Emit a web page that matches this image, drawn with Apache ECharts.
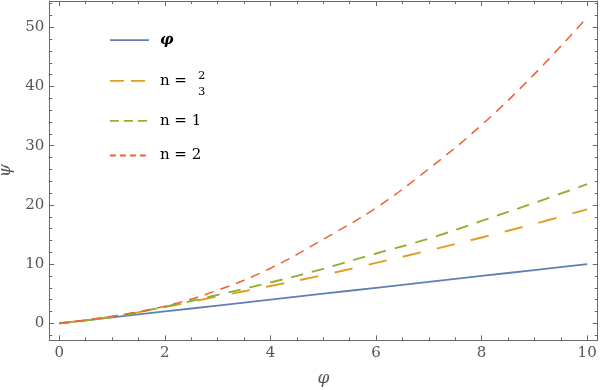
<!DOCTYPE html>
<html>
<head>
<meta charset="utf-8">
<script src="https://cdn.jsdelivr.net/npm/echarts@6/dist/echarts.min.js"></script>
<style>html,body{margin:0;padding:0;background:#fff}#c{width:600px;height:390px}</style>
</head>
<body>
<div id="c"></div>
<script>
var phiValues = [0, 1, 2, 3, 4, 5, 6, 7, 8, 9, 10];
var psiPhi = [0, 1, 2, 3, 4, 5, 6, 7, 8, 9, 10];
var psiTwoThirds = [0, 1.1, 2.75, 4.55, 6.3, 8.15, 10.2, 12.3, 14.5, 16.8, 19.25];
var psiOne = [0, 1.1, 2.8, 4.8, 6.9, 9.2, 11.8, 14.3, 17.3, 20.35, 23.5];
var psiTwo = [0, 1.2, 2.9, 5.6, 9.3, 14.2, 19.5, 26.1, 33.5, 42.1, 51.7];
var seriesNames = ['φ', 'n = ', 'n = 1', 'n = 2'];
var xMajorTicks = [0, 2, 4, 6, 8, 10];
var xMinorTicks = [0.5, 1, 1.5, 2.5, 3, 3.5, 4.5, 5, 5.5, 6.5, 7, 7.5, 8.5, 9, 9.5];
var yMajorTicks = [0, 10, 20, 30, 40, 50];
var yMinorTicks = [-2, 2, 4, 6, 8, 12, 14, 16, 18, 22, 24, 26, 28, 32, 34, 36, 38, 42, 44, 46, 48, 52, 54];

function pairs(ys) { return phiValues.map(function (x, i) { return [x, ys[i]]; }); }

var frameColor = '#6a6a6a';
var labelColor = '#555555';
var font = 'DejaVu Serif';
var xMin = -0.19, xMax = 10.2, yMin = -2.87, yMax = 54.45;

function xAx(pos, ticks, len, labels, line) {
  return {
    type: 'value', position: pos, min: xMin, max: xMax,
    splitLine: { show: false },
    axisLine: { show: line, onZero: false, lineStyle: { color: frameColor, width: 1 } },
    axisTick: { show: true, inside: true, length: len, customValues: ticks, lineStyle: { color: frameColor, width: 1 } },
    axisLabel: { show: labels, customValues: ticks, color: labelColor, fontFamily: font, fontSize: 15, margin: 5 }
  };
}
function yAx(pos, ticks, len, labels, line) {
  return {
    type: 'value', position: pos, min: yMin, max: yMax,
    splitLine: { show: false },
    axisLine: { show: line, onZero: false, lineStyle: { color: frameColor, width: 1 } },
    axisTick: { show: true, inside: true, length: len, customValues: ticks, lineStyle: { color: frameColor, width: 1 } },
    axisLabel: { show: labels, customValues: ticks, color: labelColor, fontFamily: font, fontSize: 15, margin: 5 }
  };
}

var xAxes = [
  xAx('bottom', xMajorTicks, 5, true, true),
  xAx('bottom', xMinorTicks, 3, false, false),
  xAx('top', xMajorTicks, 5, false, true),
  xAx('top', xMinorTicks, 3, false, false)
];
xAxes[0].name = 'φ';
xAxes[0].nameLocation = 'middle';
xAxes[0].nameGap = 30;
xAxes[0].nameTextStyle = { fontFamily: font, fontStyle: 'italic', fontSize: 17, color: labelColor };

var yAxes = [
  yAx('left', yMajorTicks, 5, true, true),
  yAx('left', yMinorTicks, 3, false, false),
  yAx('right', yMajorTicks, 5, false, true),
  yAx('right', yMinorTicks, 3, false, false)
];
yAxes[0].name = 'ψ';
yAxes[0].nameLocation = 'middle';
yAxes[0].nameRotate = 90;
yAxes[0].nameGap = 25;
yAxes[0].nameTextStyle = { fontFamily: font, fontStyle: 'italic', fontSize: 17, color: labelColor };

var colors = ['#5e81b5', '#e19c24', '#8fb032', '#eb6235'];
var plotDash = ['solid', [18.5, 16.5], [12.5, 9], [9.5, 7]];
var legendDash = ['solid', [14, 7], [9, 5], [6, 4]];
var widths = [1.8, 1.9, 1.9, 1.5];
var dataSets = [psiPhi, psiTwoThirds, psiOne, psiTwo];
var legendCenters = [41.7, 82.3, 122.3, 157];

var series = dataSets.map(function (d, i) {
  return {
    name: seriesNames[i], type: 'line', data: pairs(d),
    xAxisIndex: 0, yAxisIndex: 0,
    symbol: 'none', showSymbol: false, smooth: 0.4,
    lineStyle: { color: colors[i], width: widths[i], type: plotDash[i], cap: 'butt' },
    itemStyle: { color: colors[i] },
    emphasis: { disabled: true }, silent: true
  };
});

var legends = seriesNames.map(function (n, i) {
  return {
    data: [n], orient: 'vertical', left: 109, top: legendCenters[i] - 9,
    itemWidth: 39, itemHeight: 18, padding: 0, selectedMode: false,
    itemStyle: { color: 'transparent', borderWidth: 0, opacity: 0 },
    lineStyle: { type: legendDash[i], width: 1.8, color: colors[i], opacity: 1 },
    textStyle: {
      color: '#000', fontFamily: font, fontSize: 15,
      fontStyle: i === 0 ? 'italic' : 'normal', fontWeight: i === 0 ? 'bold' : 'normal',
      padding: [i === 1 ? 3 : 1, 0, 0, 6]
    }
  };
});

var chart = echarts.init(document.getElementById('c'), null, { renderer: 'canvas' });
chart.setOption({
  animation: false,
  backgroundColor: '#fff',
  grid: { left: 49.3, right: 2.3, top: 1, bottom: 49.7, containLabel: false, outerBoundsMode: 'none' },
  xAxis: xAxes,
  yAxis: yAxes,
  legend: legends,
  series: series,
  graphic: [
    { type: 'text', left: 198, top: 70, style: { text: '2', fontFamily: font, fontSize: 11.5, fill: '#000' } },
    { type: 'text', left: 198, top: 86, style: { text: '3', fontFamily: font, fontSize: 11.5, fill: '#000' } }
  ]
});
</script>
</body>
</html>
